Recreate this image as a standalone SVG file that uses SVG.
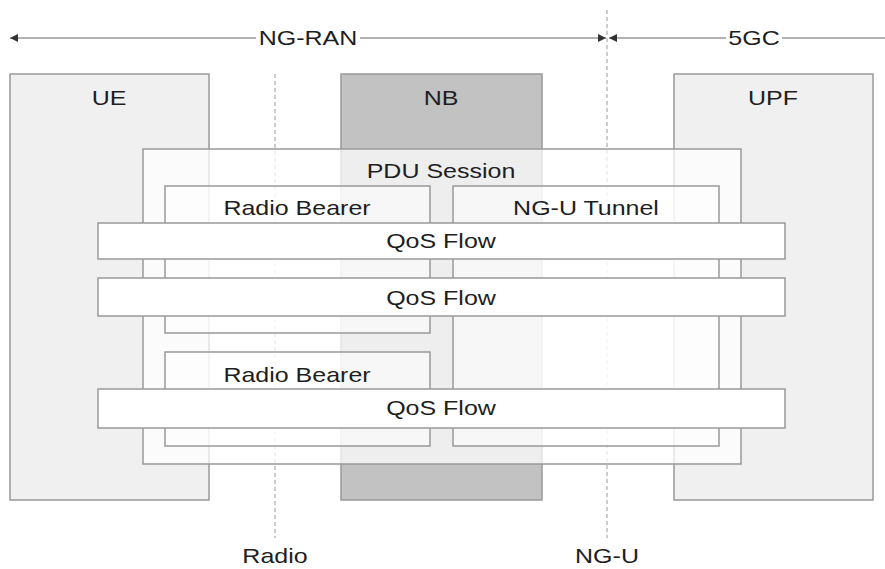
<svg xmlns="http://www.w3.org/2000/svg" width="885" height="569" viewBox="0 0 885 569">
<style>
text{font-family:"Liberation Sans",Arial,sans-serif;font-size:21px;fill:#1e1e1e;text-anchor:middle}
.ent{stroke:#999;stroke-width:1.5}
.ue{fill:#f0f0f0}
.nb{fill:#c2c2c2}
.pdu{fill:#ffffff;fill-opacity:0.72;stroke:#999;stroke-width:1.5}
.rb{fill:#ffffff;fill-opacity:0.5;stroke:#999;stroke-width:1.5}
.qos{fill:#ffffff;stroke:#999;stroke-width:1.5}
.dash{stroke:#999;stroke-width:1;stroke-dasharray:4,3;fill:none}
.axis{stroke:#999;stroke-width:1.5;fill:none}
</style>
<defs>
<marker id="ah" viewBox="0 0 10 10" refX="10" refY="5" markerWidth="8" markerHeight="8" orient="auto-start-reverse" markerUnits="userSpaceOnUse">
<path d="M0,0 L10,5 L0,10 Z" fill="#333"/>
</marker>
</defs>
<rect width="885" height="569" fill="#fff"/>
<g id="connectors">
<line class="axis" x1="10" y1="38" x2="606" y2="38" marker-start="url(#ah)" marker-end="url(#ah)"/>
<line class="axis" x1="609" y1="38" x2="885" y2="38" marker-start="url(#ah)"/>
<line class="dash" x1="275" y1="74" x2="275" y2="538"/>
<line class="dash" x1="607" y1="10" x2="607" y2="538"/>
</g>
<g id="label-ngran">
<rect x="256" y="28" width="104" height="20" fill="#fff"/>
<text transform="translate(308,45) scale(1.19,1)">NG-RAN</text>
</g>
<g id="label-5gc">
<rect x="726" y="28" width="56" height="20" fill="#fff"/>
<text transform="translate(754,45) scale(1.19,1)">5GC</text>
</g>
<g id="ue">
<rect class="ent ue" x="10" y="74" width="199" height="426"/>
<text transform="translate(109,105) scale(1.19,1)">UE</text>
</g>
<g id="nb">
<rect class="ent nb" x="341" y="74" width="201" height="426"/>
<text transform="translate(441,105) scale(1.19,1)">NB</text>
</g>
<g id="upf">
<rect class="ent ue" x="674" y="74" width="199" height="426"/>
<text transform="translate(773,105) scale(1.19,1)">UPF</text>
</g>
<g id="pdu-session">
<rect class="pdu" x="143" y="149" width="598" height="315"/>
<text transform="translate(441,178) scale(1.19,1)">PDU Session</text>
</g>
<g id="radio-bearer-1">
<rect class="rb" x="165" y="186" width="265" height="147"/>
<text transform="translate(297,215) scale(1.19,1)">Radio Bearer</text>
</g>
<g id="radio-bearer-2">
<rect class="rb" x="165" y="352" width="265" height="94"/>
<text transform="translate(297,382) scale(1.19,1)">Radio Bearer</text>
</g>
<g id="ngu-tunnel">
<rect class="rb" x="453" y="186" width="266" height="260"/>
<text transform="translate(586,215) scale(1.19,1)">NG-U Tunnel</text>
</g>
<g id="qos-flow-1">
<rect class="qos" x="98" y="223" width="687" height="36"/>
<text transform="translate(441,248) scale(1.19,1)">QoS Flow</text>
</g>
<g id="qos-flow-2">
<rect class="qos" x="98" y="278" width="687" height="38"/>
<text transform="translate(441,305) scale(1.19,1)">QoS Flow</text>
</g>
<g id="qos-flow-3">
<rect class="qos" x="98" y="389" width="687" height="39"/>
<text transform="translate(441,415) scale(1.19,1)">QoS Flow</text>
</g>
<g id="label-radio">
<text transform="translate(275,563) scale(1.19,1)">Radio</text>
</g>
<g id="label-ngu">
<text transform="translate(607,563) scale(1.19,1)">NG-U</text>
</g>
</svg>
